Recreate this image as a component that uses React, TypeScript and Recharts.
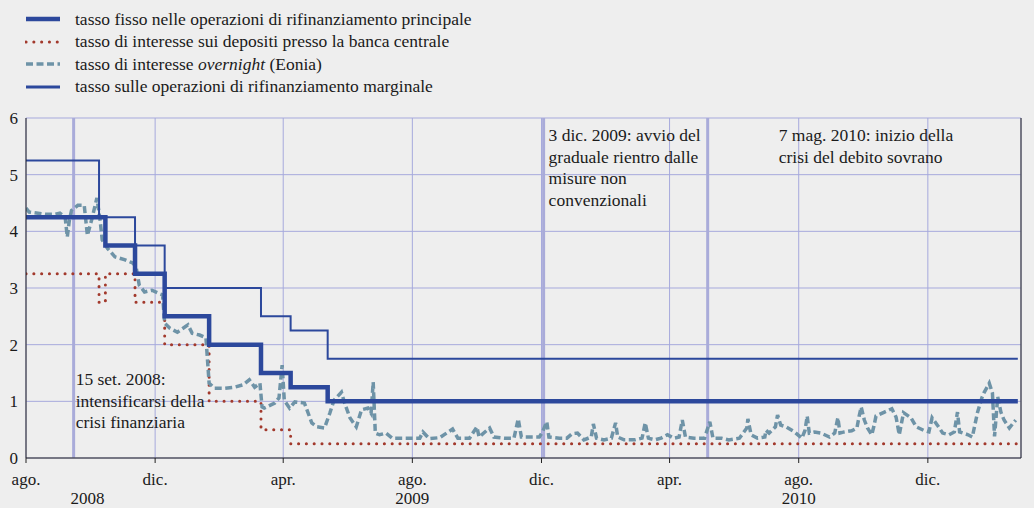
import { LineChart, Line, XAxis, YAxis, CartesianGrid, ReferenceLine } from "recharts";

// tassi BCE, date di variazione (step)
const mainDates = ["2008-08-01", "2008-10-15", "2008-11-12", "2008-12-10", "2009-01-21", "2009-03-11", "2009-04-08", "2009-05-13", "2011-02-24"];
const mainValues = [4.25, 3.75, 3.25, 2.5, 2.0, 1.5, 1.25, 1.0, 1.0];

const depositDates = ["2008-08-01", "2008-10-09", "2008-10-15", "2008-11-12", "2008-12-10", "2009-01-21", "2009-03-11", "2009-04-08", "2011-02-24"];
const depositValues = [3.25, 2.75, 3.25, 2.75, 2.0, 1.0, 0.5, 0.25, 0.25];

const marginalDates = ["2008-08-01", "2008-10-09", "2008-11-12", "2008-12-10", "2009-03-11", "2009-04-08", "2009-05-13", "2011-02-24"];
const marginalValues = [5.25, 4.25, 3.75, 3.0, 2.5, 2.25, 1.75, 1.75];

// Eonia
const eoniaDates = [
  "2008-08-01", "2008-08-04", "2008-08-19", "2008-08-28", "2008-09-02", "2008-09-07", "2008-09-09", "2008-09-11",
  "2008-09-13", "2008-09-19", "2008-09-25", "2008-09-28", "2008-10-02", "2008-10-07", "2008-10-10", "2008-10-12",
  "2008-10-17", "2008-10-24", "2008-11-02", "2008-11-10", "2008-11-13", "2008-11-16", "2008-11-21", "2008-11-28",
  "2008-12-05", "2008-12-08", "2008-12-10", "2008-12-15", "2008-12-22", "2009-01-01", "2009-01-05", "2009-01-12",
  "2009-01-18", "2009-01-21", "2009-01-26", "2009-02-04", "2009-02-14", "2009-02-22", "2009-02-28", "2009-03-05",
  "2009-03-10", "2009-03-12", "2009-03-14", "2009-03-24", "2009-03-28", "2009-03-31", "2009-04-02", "2009-04-07",
  "2009-04-12", "2009-04-21", "2009-04-28", "2009-05-03", "2009-05-10", "2009-05-15", "2009-05-19", "2009-05-26",
  "2009-05-29", "2009-06-03", "2009-06-09", "2009-06-14", "2009-06-20", "2009-06-23", "2009-06-25", "2009-06-27",
  "2009-07-01", "2009-07-07", "2009-07-13", "2009-07-29", "2009-08-08", "2009-08-11", "2009-08-17", "2009-08-27",
  "2009-09-08", "2009-09-13", "2009-09-24", "2009-10-01", "2009-10-03", "2009-10-13", "2009-10-17", "2009-10-27",
  "2009-11-05", "2009-11-09", "2009-11-12", "2009-11-20", "2009-11-29", "2009-12-02", "2009-12-06", "2009-12-08",
  "2009-12-18", "2009-12-25", "2009-12-30", "2010-01-04", "2010-01-10", "2010-01-17", "2010-01-19", "2010-01-22",
  "2010-01-29", "2010-02-05", "2010-02-09", "2010-02-11", "2010-02-17", "2010-02-27", "2010-03-06", "2010-03-09",
  "2010-03-12", "2010-03-18", "2010-03-24", "2010-03-30", "2010-04-05", "2010-04-10", "2010-04-13", "2010-04-16",
  "2010-04-24", "2010-05-04", "2010-05-09", "2010-05-12", "2010-05-20", "2010-05-27", "2010-06-06", "2010-06-13",
  "2010-06-14", "2010-06-17", "2010-06-23", "2010-06-30", "2010-07-01", "2010-07-04", "2010-07-10", "2010-07-12",
  "2010-07-15", "2010-07-20", "2010-07-28", "2010-08-04", "2010-08-07", "2010-08-09", "2010-08-11", "2010-08-16",
  "2010-08-22", "2010-08-30", "2010-09-04", "2010-09-07", "2010-09-09", "2010-09-13", "2010-09-20", "2010-09-25",
  "2010-09-27", "2010-09-29", "2010-10-02", "2010-10-05", "2010-10-09", "2010-10-11", "2010-10-13", "2010-10-21",
  "2010-10-28", "2010-11-01", "2010-11-04", "2010-11-08", "2010-11-15", "2010-11-20", "2010-11-28", "2010-12-02",
  "2010-12-05", "2010-12-10", "2010-12-15", "2010-12-21", "2010-12-26", "2010-12-29", "2010-12-31", "2011-01-08",
  "2011-01-12", "2011-01-17", "2011-01-21", "2011-01-23", "2011-01-28", "2011-01-31", "2011-02-02", "2011-02-05",
  "2011-02-08", "2011-02-11", "2011-02-16", "2011-02-22",
];
const eoniaValues = [
  4.41, 4.34, 4.3, 4.3, 4.32, 4.25, 3.9, 4.2,
  4.37, 4.46, 4.46, 3.93, 4.2, 4.59, 4.2, 3.85,
  3.7, 3.55, 3.5, 3.44, 3.37, 3.05, 2.93, 2.96,
  2.9, 2.88, 2.38, 2.29, 2.22, 2.35, 2.2, 2.17,
  2.12, 1.32, 1.23, 1.23, 1.25, 1.29, 1.38, 1.25,
  1.32, 0.9, 0.88, 0.97, 1.06, 1.64, 1.02, 0.88,
  0.99, 0.97, 0.62, 0.55, 0.53, 0.79, 1.02, 1.16,
  0.97, 0.71, 0.55, 0.85, 0.88, 0.79, 1.34, 0.44,
  0.41, 0.44, 0.35, 0.35, 0.35, 0.46, 0.34, 0.36,
  0.51, 0.35, 0.35, 0.55, 0.37, 0.53, 0.37, 0.35,
  0.35, 0.69, 0.37, 0.37, 0.37, 0.46, 0.64, 0.37,
  0.35, 0.35, 0.43, 0.44, 0.32, 0.37, 0.6, 0.35,
  0.32, 0.35, 0.62, 0.37, 0.32, 0.32, 0.35, 0.62,
  0.35, 0.32, 0.35, 0.41, 0.35, 0.37, 0.67, 0.37,
  0.35, 0.35, 0.64, 0.35, 0.35, 0.32, 0.35, 0.53,
  0.69, 0.41, 0.35, 0.37, 0.49, 0.44, 0.55, 0.76,
  0.58, 0.55, 0.46, 0.35, 0.49, 0.74, 0.44, 0.46,
  0.44, 0.37, 0.44, 0.71, 0.44, 0.46, 0.48, 0.53,
  0.73, 0.9, 0.67, 0.53, 0.41, 0.56, 0.74, 0.81,
  0.87, 0.72, 0.41, 0.8, 0.71, 0.55, 0.48, 0.46,
  0.71, 0.58, 0.44, 0.41, 0.46, 0.81, 0.46, 0.41,
  0.37, 0.81, 1.06, 1.15, 1.32, 1.15, 0.38, 1.08,
  0.81, 0.67, 0.53, 0.67,
];

const monthTicks = ["2008-08-01", "2008-12-01", "2009-04-01", "2009-08-01", "2009-12-01", "2010-04-01", "2010-08-01", "2010-12-01"];
const monthLabels = ["ago.", "dic.", "apr.", "ago.", "dic.", "apr.", "ago.", "dic."];
const yearTicks = ["2008-09-28", "2009-08-01", "2010-08-01"];
const yearLabels = ["2008", "2009", "2010"];
const yTicks = [0, 1, 2, 3, 4, 5, 6];
const domainDates = ["2008-08-01", "2011-02-27"];

const events = [
  { date: "2008-09-15", lines: ["15 set. 2008:", "intensificarsi della", "crisi finanziaria"] },
  { date: "2009-12-03", lines: ["3 dic. 2009: avvio del", "graduale rientro dalle", "misure non", "convenzionali"] },
  { date: "2010-05-07", lines: ["7 mag. 2010: inizio della", "crisi del debito sovrano"] },
];
const eventTextPos = [
  { dx: 2, dy: 267 },
  { dx: 5, dy: 23 },
  { dx: 71, dy: 23 },
];

const legendItems = [
  { key: "main", label: <>tasso fisso nelle operazioni di rifinanziamento principale</> },
  { key: "deposit", label: <>tasso di interesse sui depositi presso la banca centrale</> },
  { key: "eonia", label: <>tasso di interesse <i>overnight</i> (Eonia)</> },
  { key: "marginal", label: <>tasso sulle operazioni di rifinanziamento marginale</> },
];

const toDay = (s: string) => Date.UTC(+s.slice(0, 4), +s.slice(5, 7) - 1, +s.slice(8, 10)) / 86400000;
const series = (dates: string[], values: number[]) => dates.map((d, i) => ({ t: toDay(d), v: values[i] }));

const FONT = '"Liberation Serif", "Times New Roman", serif';
const TEXT = "#1a1a1a";
const BLUE = "#2c489c";
const RED = "#a2392c";
const EONIA = "#6e93a7";
const GRID = "#a6a9dc";
const EVENT = "#a9abd9";

const mainData = series(mainDates, mainValues);
const depositData = series(depositDates, depositValues);
const marginalData = series(marginalDates, marginalValues);
const eoniaData = series(eoniaDates, eoniaValues);

const monthTickDays = monthTicks.map(toDay);
const yearTickDays = yearTicks.map(toDay);

const styles: Record<string, { stroke: string; width: number; dash?: string; cap?: "round" | "butt" }> = {
  main: { stroke: BLUE, width: 4.5 },
  deposit: { stroke: RED, width: 3, dash: "0.1 7.7", cap: "round" },
  eonia: { stroke: EONIA, width: 3.5, dash: "7 3.5" },
  marginal: { stroke: BLUE, width: 3 },
};

const eventLabel = (lines: string[], dx: number, dy: number) => (props: any) => {
  const vb = props.viewBox || {};
  const x = (vb.x ?? 0) + dx;
  const y = (vb.y ?? 0) + dy;
  return (
    <text x={x} y={y} fontFamily={FONT} fontSize={17.5} fill={TEXT}>
      {lines.map((l, i) => (
        <tspan key={i} x={x} dy={i === 0 ? 0 : 21.6}>
          {l}
        </tspan>
      ))}
    </text>
  );
};

const tickStyle = { fontFamily: FONT, fontSize: 17, fill: TEXT };

export default function App() {
  return (
    <div
      style={{
        position: "absolute",
        left: 0,
        top: 0,
        width: 1034,
        height: 508,
        overflow: "hidden",
        background: "#eeeeee",
        fontFamily: FONT,
      }}
    >
      {legendItems.map((item, i) => {
        const s = styles[item.key];
        return (
          <div
            key={item.key}
            style={{
              position: "absolute",
              left: 25,
              top: 9 + i * 22.5,
              height: 20,
              display: "flex",
              alignItems: "center",
              fontSize: 17.5,
              color: TEXT,
              whiteSpace: "nowrap",
            }}
          >
            <svg width={36} height={10} style={{ marginRight: 14 }}>
              <line
                x1={1}
                x2={35}
                y1={5}
                y2={5}
                stroke={s.stroke}
                strokeWidth={s.width}
                strokeDasharray={s.dash}
                strokeLinecap={s.cap || "butt"}
              />
            </svg>
            <span>{item.label}</span>
          </div>
        );
      })}

      <div style={{ position: "absolute", left: 0, top: 0 }}>
        <LineChart width={1060} height={508} margin={{ top: 118, right: 0, bottom: 0, left: 0 }}>
          <CartesianGrid stroke={GRID} strokeWidth={1} />
          <XAxis
            type="number"
            dataKey="t"
            domain={domainDates.map(toDay)}
            allowDataOverflow
            ticks={monthTickDays}
            tickFormatter={(v: number) => monthLabels[monthTickDays.indexOf(v)] ?? ""}
            height={25}
            stroke="#222"
            tickSize={5}
            tickMargin={10}
            tick={tickStyle}
            interval={0}
          />
          <XAxis
            xAxisId="yr"
            type="number"
            dataKey="t"
            domain={domainDates.map(toDay)}
            allowDataOverflow
            ticks={yearTickDays}
            tickFormatter={(v: number) => yearLabels[yearTickDays.indexOf(v)] ?? ""}
            height={25}
            axisLine={false}
            tickLine={false}
            tickSize={0}
            tickMargin={9}
            tick={tickStyle}
            interval={0}
          />
          <YAxis
            domain={[0, 6]}
            ticks={yTicks}
            width={26}
            stroke="#222"
            tickLine={false}
            tickSize={6}
            tickMargin={2}
            tick={tickStyle}
            interval={0}
          />
          <YAxis
            yAxisId="r"
            orientation="right"
            domain={[0, 6]}
            ticks={yTicks}
            width={39}
            stroke="#222"
            tickLine={false}
            tickSize={4}
            tickMargin={2}
            tick={tickStyle}
            interval={0}
          />
          {events.map((e, i) => (
            <ReferenceLine
              key={e.date}
              x={toDay(e.date)}
              stroke={EVENT}
              strokeWidth={3}
              label={eventLabel(e.lines, eventTextPos[i].dx, eventTextPos[i].dy)}
            />
          ))}
          <Line
            data={depositData}
            dataKey="v"
            type="stepAfter"
            stroke={RED}
            strokeWidth={3}
            strokeDasharray="0.1 7.7"
            strokeLinecap="round"
            dot={false}
            isAnimationActive={false}
          />
          <Line
            data={eoniaData}
            dataKey="v"
            type="linear"
            stroke={EONIA}
            strokeWidth={3.5}
            strokeDasharray="7 3.5"
            dot={false}
            isAnimationActive={false}
          />
          <Line
            data={marginalData}
            dataKey="v"
            type="stepAfter"
            stroke={BLUE}
            strokeWidth={2}
            dot={false}
            isAnimationActive={false}
          />
          <Line
            data={mainData}
            dataKey="v"
            type="stepAfter"
            stroke={BLUE}
            strokeWidth={4.5}
            dot={false}
            isAnimationActive={false}
          />
        </LineChart>
      </div>
    </div>
  );
}
